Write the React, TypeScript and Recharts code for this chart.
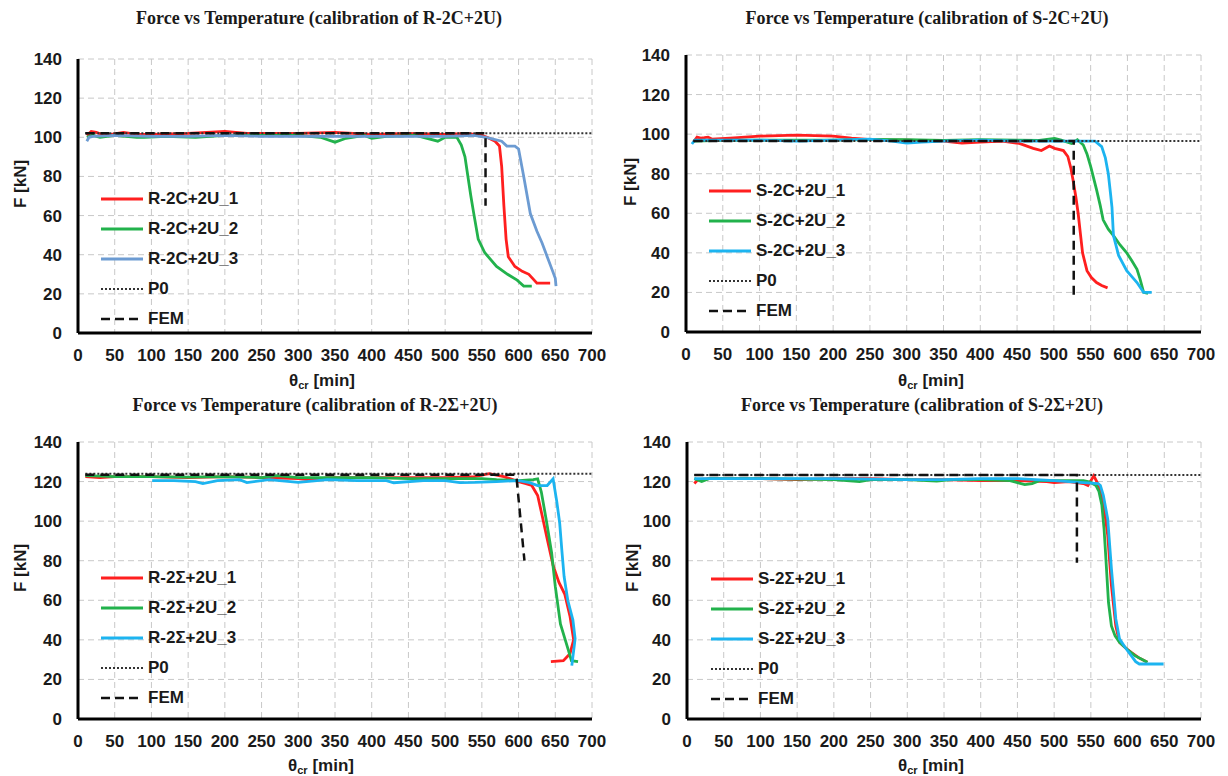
import { LineChart, Line, XAxis, YAxis, CartesianGrid, Legend } from "recharts"

type Pt = { t: number; f: number }

const xTicks = [0, 50, 100, 150, 200, 250, 300, 350, 400, 450, 500, 550, 600, 650, 700]
const yTicks = [0, 20, 40, 60, 80, 100, 120, 140]

// ---- R-2C+2U ----
const r2c1: Pt[] = [
  { t: 12, f: 101 }, { t: 18, f: 103 }, { t: 25, f: 102.5 }, { t: 32, f: 101.5 }, { t: 45, f: 101.5 },
  { t: 62, f: 102.5 }, { t: 80, f: 101.5 }, { t: 100, f: 101.5 }, { t: 150, f: 102 }, { t: 200, f: 103 },
  { t: 230, f: 102 }, { t: 300, f: 102 }, { t: 350, f: 102.5 }, { t: 400, f: 101.5 }, { t: 450, f: 102 },
  { t: 500, f: 101.5 }, { t: 530, f: 102 }, { t: 550, f: 101 }, { t: 557, f: 100 }, { t: 568, f: 98 },
  { t: 574, f: 95.5 }, { t: 577, f: 85 }, { t: 580, f: 65 }, { t: 583, f: 48 }, { t: 586, f: 39 },
  { t: 595, f: 34 }, { t: 605, f: 31.5 }, { t: 614, f: 30 }, { t: 620, f: 27.5 }, { t: 625, f: 25.5 },
  { t: 643, f: 25.5 },
]
const r2c2: Pt[] = [
  { t: 12, f: 100 }, { t: 20, f: 101 }, { t: 30, f: 100 }, { t: 50, f: 101 }, { t: 80, f: 100 },
  { t: 90, f: 100 }, { t: 120, f: 100.5 }, { t: 160, f: 100 }, { t: 200, f: 101 }, { t: 250, f: 101 },
  { t: 300, f: 101 }, { t: 330, f: 100 }, { t: 350, f: 97.5 }, { t: 365, f: 99.5 }, { t: 390, f: 101 },
  { t: 400, f: 99.5 }, { t: 420, f: 100.5 }, { t: 460, f: 101 }, { t: 490, f: 98 }, { t: 500, f: 100 },
  { t: 516, f: 100 }, { t: 522, f: 96 }, { t: 527, f: 90 }, { t: 531, f: 80 }, { t: 535, f: 70 },
  { t: 539, f: 61 }, { t: 545, f: 48 }, { t: 554, f: 41 }, { t: 570, f: 34 }, { t: 585, f: 30 },
  { t: 598, f: 27 }, { t: 607, f: 24 }, { t: 618, f: 24 },
]
const r2c3: Pt[] = [
  { t: 12, f: 98 }, { t: 15, f: 100 }, { t: 20, f: 100.5 }, { t: 50, f: 101 }, { t: 100, f: 100.5 },
  { t: 150, f: 100.5 }, { t: 200, f: 101 }, { t: 250, f: 100.5 }, { t: 300, f: 100.5 }, { t: 350, f: 100.5 },
  { t: 400, f: 100.5 }, { t: 450, f: 100.5 }, { t: 500, f: 100.5 }, { t: 540, f: 101 }, { t: 557, f: 99.8 },
  { t: 577, f: 98 }, { t: 584, f: 95.5 }, { t: 595, f: 95.5 }, { t: 600, f: 94 }, { t: 607, f: 80 },
  { t: 616, f: 61 }, { t: 625, f: 52 }, { t: 632, f: 46 }, { t: 639, f: 39 }, { t: 646, f: 32 },
  { t: 650, f: 28 }, { t: 651, f: 24 },
]
const r2cP0: Pt[] = [{ t: 10, f: 102 }, { t: 700, f: 102 }]
const r2cFem: Pt[] = [{ t: 10, f: 102 }, { t: 555, f: 102 }, { t: 555, f: 65 }]

// ---- S-2C+2U ----
const s2c1: Pt[] = [
  { t: 10, f: 96 }, { t: 15, f: 98.5 }, { t: 20, f: 98 }, { t: 25, f: 98.2 }, { t: 30, f: 98.5 },
  { t: 35, f: 97.5 }, { t: 60, f: 98 }, { t: 100, f: 99 }, { t: 150, f: 99.5 }, { t: 200, f: 99 },
  { t: 225, f: 98 }, { t: 260, f: 97 }, { t: 300, f: 97 }, { t: 350, f: 96.5 }, { t: 375, f: 95.5 },
  { t: 400, f: 96 }, { t: 430, f: 96.5 }, { t: 453, f: 95.3 }, { t: 472, f: 92.8 }, { t: 483, f: 91.7 },
  { t: 494, f: 94 }, { t: 501, f: 92.8 }, { t: 513, f: 91.7 }, { t: 519, f: 88.7 }, { t: 523, f: 83 },
  { t: 526, f: 77 }, { t: 530, f: 68 }, { t: 533, f: 60 }, { t: 536, f: 50 }, { t: 539, f: 40 },
  { t: 545, f: 31 }, { t: 551, f: 27.5 }, { t: 558, f: 25 }, { t: 565, f: 23.5 }, { t: 573, f: 22.3 },
]
const s2c2: Pt[] = [
  { t: 10, f: 96.5 }, { t: 50, f: 96.8 }, { t: 100, f: 97 }, { t: 200, f: 97 }, { t: 250, f: 97.3 },
  { t: 300, f: 97.2 }, { t: 350, f: 96.8 }, { t: 400, f: 97.2 }, { t: 450, f: 97 }, { t: 480, f: 96.8 },
  { t: 501, f: 97.8 }, { t: 510, f: 97 }, { t: 524, f: 95.3 }, { t: 532, f: 97.2 }, { t: 540, f: 94.5 },
  { t: 545, f: 90 }, { t: 550, f: 83.7 }, { t: 558, f: 72 }, { t: 563, f: 64 }, { t: 567, f: 56.7 },
  { t: 574, f: 52 }, { t: 581, f: 48.7 }, { t: 590, f: 44 }, { t: 599, f: 40 }, { t: 606, f: 36 },
  { t: 613, f: 31.7 }, { t: 617, f: 27 }, { t: 622, f: 20 }, { t: 628, f: 19.5 },
]
const s2c3: Pt[] = [
  { t: 8, f: 95 }, { t: 12, f: 97 }, { t: 20, f: 97 }, { t: 50, f: 97 }, { t: 100, f: 97 },
  { t: 150, f: 96.5 }, { t: 200, f: 97 }, { t: 250, f: 97.5 }, { t: 280, f: 96.5 }, { t: 300, f: 95.5 },
  { t: 320, f: 96 }, { t: 350, f: 96.5 }, { t: 400, f: 97 }, { t: 450, f: 96.5 }, { t: 500, f: 96.5 },
  { t: 556, f: 96.5 }, { t: 565, f: 93.7 }, { t: 570, f: 88 }, { t: 574, f: 80 }, { t: 577, f: 70 },
  { t: 579, f: 63 }, { t: 581, f: 48.7 }, { t: 588, f: 38.7 }, { t: 599, f: 31 }, { t: 606, f: 28 },
  { t: 613, f: 25 }, { t: 622, f: 20 }, { t: 633, f: 20 },
]
const s2cP0: Pt[] = [{ t: 10, f: 96.5 }, { t: 700, f: 96.5 }]
const s2cFem: Pt[] = [{ t: 10, f: 96.5 }, { t: 527, f: 96.5 }, { t: 527, f: 17 }]

// ---- R-2Σ+2U ----
const r2s1: Pt[] = [
  { t: 10, f: 122.5 }, { t: 30, f: 122 }, { t: 50, f: 122.5 }, { t: 100, f: 122.5 }, { t: 150, f: 122 },
  { t: 200, f: 122.5 }, { t: 250, f: 122 }, { t: 300, f: 121.5 }, { t: 320, f: 120.8 }, { t: 340, f: 122 },
  { t: 400, f: 122 }, { t: 450, f: 122 }, { t: 500, f: 122 }, { t: 540, f: 122.5 }, { t: 560, f: 124 },
  { t: 580, f: 122.5 }, { t: 600, f: 120 }, { t: 610, f: 119 }, { t: 618, f: 118 }, { t: 626, f: 113 },
  { t: 632, f: 103 }, { t: 639, f: 91 }, { t: 647, f: 77.6 }, { t: 655, f: 69 }, { t: 663, f: 63 },
  { t: 670, f: 52 }, { t: 675, f: 40 }, { t: 670, f: 33 }, { t: 661, f: 29.5 }, { t: 644, f: 29 },
]
const r2s2: Pt[] = [
  { t: 10, f: 123 }, { t: 50, f: 122.5 }, { t: 100, f: 122.5 }, { t: 150, f: 122.2 }, { t: 200, f: 122.5 },
  { t: 250, f: 122 }, { t: 270, f: 123 }, { t: 300, f: 122 }, { t: 350, f: 122 }, { t: 400, f: 122 },
  { t: 450, f: 121.5 }, { t: 500, f: 121.5 }, { t: 550, f: 121.5 }, { t: 570, f: 121 }, { t: 600, f: 120.5 },
  { t: 620, f: 121 }, { t: 626, f: 121.4 }, { t: 631, f: 114.7 }, { t: 638, f: 100 }, { t: 645, f: 84 },
  { t: 650, f: 67 }, { t: 657, f: 48 }, { t: 668, f: 34.6 }, { t: 672, f: 29.5 }, { t: 681, f: 29 },
]
const r2s3: Pt[] = [
  { t: 101, f: 120.5 }, { t: 130, f: 120.5 }, { t: 160, f: 120 }, { t: 170, f: 119 }, { t: 190, f: 120.5 },
  { t: 220, f: 121 }, { t: 230, f: 119.5 }, { t: 260, f: 121 }, { t: 300, f: 119.6 }, { t: 340, f: 121 },
  { t: 380, f: 120.5 }, { t: 420, f: 120.5 }, { t: 430, f: 119.4 }, { t: 470, f: 120.5 }, { t: 500, f: 120.5 },
  { t: 520, f: 119.5 }, { t: 540, f: 119.6 }, { t: 570, f: 120 }, { t: 600, f: 120.5 }, { t: 615, f: 119.5 },
  { t: 626, f: 118 }, { t: 639, f: 118 }, { t: 647, f: 121.4 }, { t: 652, f: 110 }, { t: 656, f: 99 },
  { t: 659, f: 85 }, { t: 662, f: 72 }, { t: 667, f: 60 }, { t: 674, f: 50 }, { t: 677, f: 40.5 },
  { t: 672.5, f: 27 },
]
const r2sP0: Pt[] = [{ t: 10, f: 124 }, { t: 700, f: 124 }]
const r2sFem: Pt[] = [{ t: 10, f: 123.5 }, { t: 597, f: 123.5 }, { t: 598, f: 119 }, { t: 608, f: 80 }]

// ---- S-2Σ+2U ----
const s2s1: Pt[] = [
  { t: 10, f: 119 }, { t: 15, f: 121 }, { t: 30, f: 121.5 }, { t: 50, f: 121.5 }, { t: 100, f: 121.5 },
  { t: 150, f: 121 }, { t: 200, f: 121.5 }, { t: 250, f: 121.5 }, { t: 300, f: 121 }, { t: 350, f: 121 },
  { t: 400, f: 120.5 }, { t: 450, f: 120.5 }, { t: 490, f: 120 }, { t: 500, f: 119.5 }, { t: 520, f: 120 },
  { t: 540, f: 119 }, { t: 546, f: 118 }, { t: 551, f: 121 }, { t: 554, f: 123 }, { t: 558, f: 120 },
  { t: 565, f: 113 }, { t: 569, f: 104 }, { t: 573, f: 92.7 }, { t: 578, f: 67.5 }, { t: 584, f: 47 },
  { t: 589, f: 38.8 }, { t: 597, f: 36 }, { t: 605, f: 33.7 }, { t: 615, f: 31 }, { t: 627, f: 28.7 },
]
const s2s2: Pt[] = [
  { t: 10, f: 121.5 }, { t: 20, f: 120 }, { t: 30, f: 121.5 }, { t: 100, f: 121.5 }, { t: 200, f: 121 },
  { t: 235, f: 120 }, { t: 250, f: 121 }, { t: 300, f: 121 }, { t: 340, f: 120.2 }, { t: 360, f: 121 },
  { t: 400, f: 121 }, { t: 440, f: 120.5 }, { t: 460, f: 118.5 }, { t: 470, f: 119 }, { t: 480, f: 120.5 },
  { t: 540, f: 120.5 }, { t: 549, f: 119.7 }, { t: 557, f: 118 }, { t: 561, f: 115 }, { t: 565, f: 108 },
  { t: 568, f: 96 }, { t: 570, f: 84 }, { t: 574, f: 59 }, { t: 578, f: 47 }, { t: 583, f: 42 },
  { t: 589, f: 38.8 }, { t: 600, f: 35 }, { t: 610, f: 32 }, { t: 627, f: 28.7 },
]
const s2s3: Pt[] = [
  { t: 10, f: 121.5 }, { t: 50, f: 121.5 }, { t: 100, f: 121.5 }, { t: 200, f: 121.5 }, { t: 300, f: 121 },
  { t: 350, f: 121 }, { t: 400, f: 121.5 }, { t: 450, f: 121.5 }, { t: 500, f: 120.5 }, { t: 540, f: 119.5 },
  { t: 560, f: 119 }, { t: 563, f: 118 }, { t: 567, f: 113 }, { t: 570, f: 107 }, { t: 573, f: 101 },
  { t: 578, f: 76 }, { t: 584, f: 50.6 }, { t: 589, f: 40.5 }, { t: 597, f: 36 }, { t: 605, f: 32 },
  { t: 611, f: 29 }, { t: 616, f: 27.8 }, { t: 649, f: 27.8 },
]
const s2sP0: Pt[] = [{ t: 10, f: 123.3 }, { t: 700, f: 123.3 }]
const s2sFem: Pt[] = [{ t: 10, f: 123.3 }, { t: 531, f: 123.3 }, { t: 531, f: 79 }]

const RED = "#ff1f1f"
const GREEN = "#22b24c"
const STEEL = "#6c9bd2"
const CYAN = "#1cb4f0"
const SANS = "'Liberation Sans', Arial, sans-serif"
const SERIF = "'Liberation Serif', 'Times New Roman', serif"

interface PanelProps {
  left: number
  top: number
  h: number
  title: string
  titleX: number
  titleY: number
  plotLeft: number
  plotTop: number
  plotRight: number
  plotBottom: number
  xLabelX: number
  xLabelY: number
  yLabelX: number
  yLabelY: number
  legendLeft: number
  legendTop: number
  names: string[]
  series: Pt[][]
  colors: string[]
  p0: Pt[]
  fem: Pt[]
}

const W = 614

function LegendBox({ items }: { items: { name: string; color: string; dash?: string; w: number }[] }) {
  return (
    <div style={{ fontFamily: SANS, fontWeight: 700, fontSize: 17, color: "#1a1a1a" }}>
      {items.map((it) => (
        <div key={it.name} style={{ display: "flex", alignItems: "center", height: 30 }}>
          <svg width={42} height={6} style={{ marginRight: 5 }}>
            <line x1={0} y1={3} x2={42} y2={3} stroke={it.color} strokeWidth={it.w} strokeDasharray={it.dash} />
          </svg>
          <span>{it.name}</span>
        </div>
      ))}
    </div>
  )
}

function Panel(p: PanelProps) {
  const legendItems = [
    ...p.names.map((n, i) => ({ name: n, color: p.colors[i], w: 3 })),
    { name: "P0", color: "#333", dash: "2 2", w: 2 },
    { name: "FEM", color: "#111", dash: "9 5", w: 2.5 },
  ]
  return (
    <div style={{ position: "absolute", left: p.left, top: p.top, width: W, height: p.h }}>
      <div
        style={{
          position: "absolute",
          left: p.titleX - 300,
          width: 600,
          top: p.titleY - 10,
          textAlign: "center",
          fontFamily: SERIF,
          fontWeight: 700,
          fontSize: 18,
          color: "#1a1a1a",
          lineHeight: "20px",
        }}
      >
        {p.title}
      </div>
      <LineChart
        width={W}
        height={p.h}
        margin={{ top: p.plotTop, right: W - p.plotRight, left: 0, bottom: 0 }}
      >
        <CartesianGrid stroke="#c8c8c8" strokeDasharray="6 4" />
        <XAxis
          type="number"
          dataKey="t"
          domain={[0, 700]}
          ticks={xTicks}
          interval={0}
          allowDataOverflow
          height={p.h - p.plotBottom}
          tickLine={false}
          tickSize={0}
          tickMargin={16}
          axisLine={{ stroke: "#000", strokeWidth: 3 }}
          tick={{ fill: "#1a1a1a", fontSize: 17, fontWeight: 700, fontFamily: SANS }}
          label={{
            content: () => (
              <text
                x={p.xLabelX}
                y={p.xLabelY}
                textAnchor="middle"
                dominantBaseline="central"
                fill="#1a1a1a"
                style={{ fontFamily: SANS, fontWeight: 700, fontSize: 17 }}
              >
                θ<tspan dy={5} fontSize={11}>cr</tspan>
                <tspan dy={-5}> [min]</tspan>
              </text>
            ),
          }}
        />
        <YAxis
          type="number"
          domain={[0, 140]}
          ticks={yTicks}
          interval={0}
          allowDataOverflow
          width={p.plotLeft}
          tickLine={false}
          tickSize={0}
          tickMargin={16}
          axisLine={{ stroke: "#000", strokeWidth: 3 }}
          tick={{ fill: "#1a1a1a", fontSize: 17, fontWeight: 700, fontFamily: SANS }}
          label={{
            content: () => (
              <text
                x={p.yLabelX}
                y={p.yLabelY}
                transform={`rotate(-90 ${p.yLabelX} ${p.yLabelY})`}
                textAnchor="middle"
                dominantBaseline="central"
                fill="#1a1a1a"
                style={{ fontFamily: SANS, fontWeight: 700, fontSize: 17 }}
              >
                F [kN]
              </text>
            ),
          }}
        />
        <Legend
          layout="vertical"
          align="center"
          verticalAlign="middle"
          wrapperStyle={{ left: p.legendLeft, top: p.legendTop, width: "auto", height: "auto" }}
          content={() => <LegendBox items={legendItems} />}
        />
        {p.series.map((s, i) => (
          <Line
            key={p.names[i]}
            data={s}
            dataKey="f"
            name={p.names[i]}
            type="linear"
            stroke={p.colors[i]}
            strokeWidth={2.8}
            dot={false}
            isAnimationActive={false}
          />
        ))}
        <Line data={p.p0} dataKey="f" name="P0" type="linear" stroke="#333" strokeWidth={2} strokeDasharray="2 2" dot={false} isAnimationActive={false} />
        <Line data={p.fem} dataKey="f" name="FEM" type="linear" stroke="#111" strokeWidth={2.5} strokeDasharray="9 6" dot={false} isAnimationActive={false} />
      </LineChart>
    </div>
  )
}

export default function App() {
  return (
    <div style={{ position: "absolute", left: 0, top: 0, width: 1228, height: 776, background: "#fff" }}>
      <Panel
        left={0} top={0} h={398}
        title="Force vs Temperature (calibration of R-2C+2U)" titleX={319} titleY={18}
        plotLeft={78} plotTop={59} plotRight={592} plotBottom={333}
        xLabelX={322} xLabelY={380} yLabelX={20} yLabelY={184}
        legendLeft={101} legendTop={184}
        names={["R-2C+2U_1", "R-2C+2U_2", "R-2C+2U_3"]}
        series={[r2c1, r2c2, r2c3]} colors={[RED, GREEN, STEEL]}
        p0={r2cP0} fem={r2cFem}
      />
      <Panel
        left={610} top={0} h={398}
        title="Force vs Temperature (calibration of S-2C+2U)" titleX={317} titleY={18}
        plotLeft={76} plotTop={55} plotRight={591} plotBottom={332}
        xLabelX={321} xLabelY={380} yLabelX={20} yLabelY={182}
        legendLeft={99} legendTop={176}
        names={["S-2C+2U_1", "S-2C+2U_2", "S-2C+2U_3"]}
        series={[s2c1, s2c2, s2c3]} colors={[RED, GREEN, CYAN]}
        p0={s2cP0} fem={s2cFem}
      />
      <Panel
        left={0} top={388} h={388}
        title="Force vs Temperature (calibration of R-2Σ+2U)" titleX={315} titleY={17}
        plotLeft={78} plotTop={54} plotRight={592} plotBottom={331}
        xLabelX={321} xLabelY={377} yLabelX={20} yLabelY={180}
        legendLeft={101} legendTop={175}
        names={["R-2Σ+2U_1", "R-2Σ+2U_2", "R-2Σ+2U_3"]}
        series={[r2s1, r2s2, r2s3]} colors={[RED, GREEN, CYAN]}
        p0={r2sP0} fem={r2sFem}
      />
      <Panel
        left={610} top={388} h={388}
        title="Force vs Temperature (calibration of S-2Σ+2U)" titleX={312} titleY={17}
        plotLeft={77} plotTop={54} plotRight={591} plotBottom={331}
        xLabelX={321} xLabelY={377} yLabelX={22} yLabelY={180}
        legendLeft={101} legendTop={176}
        names={["S-2Σ+2U_1", "S-2Σ+2U_2", "S-2Σ+2U_3"]}
        series={[s2s1, s2s2, s2s3]} colors={[RED, GREEN, CYAN]}
        p0={s2sP0} fem={s2sFem}
      />
    </div>
  )
}
